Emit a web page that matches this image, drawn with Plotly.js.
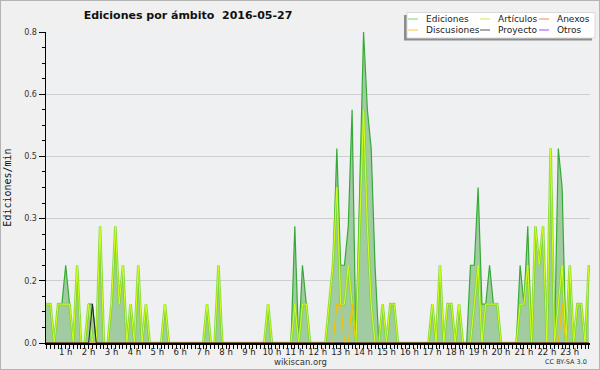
<!DOCTYPE html>
<html><head><meta charset="utf-8">
<script src="https://cdn.plot.ly/plotly-3.0.1.min.js"></script>
<style>
html,body{margin:0;padding:0;background:#f0f0f0;}
#wrap{width:600px;height:370px;box-sizing:border-box;border:1px solid #b4b4b4;overflow:hidden;}
#chart{width:598px;height:368px;}
</style></head><body><div id="wrap"><div id="chart"></div></div>
<script>
// ---- data: 10-minute bins over the day (index 0..143) ----
const seriesNames = ['Ediciones','Artículos','Anexos','Discusiones','Proyecto','Otros'];
const seriesColors = ['#7fcf7f','#ccee55','#f08a4b','#ffcc33','#555555','#9b4ff0'];
const hourLabels = ['1 h','2 h','3 h','4 h','5 h','6 h','7 h','8 h','9 h','10 h','11 h','12 h',
  '13 h','14 h','15 h','16 h','17 h','18 h','19 h','20 h','21 h','22 h','23 h'];
const yTickLabels = ['0.0','0.2','0.3','0.5','0.6','0.8'];
const yTickValues = [0,0.16,0.32,0.48,0.64,0.8];

const ediciones = [
 0.1,0.1,0.1,0,0.1,0.1,0.2,0.1,0,0.2,0,0,
 0.1,0.1,0,0.3,0,0,0.1,0.3,0.1,0.2,0,0.1,
 0,0.2,0,0.1,0,0,0,0,0.1,0,0,0,
 0,0,0,0,0,0,0,0.1,0,0,0.2,0,
 0,0,0,0,0,0,0,0,0,0,0,0.1,
 0,0,0,0,0,0,0.3,0,0.2,0.1,0,0,
 0,0,0,0.1,0.2,0.5,0.2,0.2,0.3,0.6,0,0.4,
 0.8,0.6,0.5,0.2,0,0.1,0,0.1,0.1,0,0,0,
 0,0,0,0,0,0,0.1,0,0.2,0,0.1,0.1,
 0,0.1,0,0,0.2,0.2,0.4,0.1,0.1,0.2,0.1,0.1,
 0,0,0,0,0,0.2,0.1,0.3,0,0.3,0.2,0.3,
 0,0.5,0,0.5,0.4,0,0.2,0,0.1,0.1,0,0.2];
const articulos = [
 0.1,0.1,0.1,0,0.1,0.1,0.1,0.1,0,0.2,0,0,
 0.1,0,0,0.3,0,0,0.1,0.3,0.1,0.2,0,0.1,
 0,0.2,0,0.1,0,0,0,0,0.1,0,0,0,
 0,0,0,0,0,0,0,0.1,0,0,0.2,0,
 0,0,0,0,0,0,0,0,0,0,0,0.1,
 0,0,0,0,0,0,0.1,0,0.1,0.1,0,0,
 0,0,0,0.1,0.2,0.4,0.1,0.1,0.2,0.1,0,0.3,
 0.6,0.3,0.1,0,0,0.1,0,0.1,0.1,0,0,0,
 0,0,0,0,0,0,0.1,0,0.2,0,0.1,0.1,
 0,0.1,0,0,0,0.1,0.2,0,0.1,0.1,0.1,0.1,
 0,0,0,0,0,0.1,0.1,0.2,0,0.3,0.2,0.3,
 0,0.5,0,0.1,0.2,0,0.2,0,0.1,0.1,0,0.2];
const anexos = [
 0,0,0,0,0,0,0,0,0,0,0,0, 0,0,0,0,0,0,0,0,0,0,0,0,
 0,0,0,0,0,0,0,0,0,0,0,0, 0,0,0,0,0,0,0,0,0,0,0,0,
 0,0,0,0,0,0,0,0,0,0,0,0, 0,0,0,0,0,0,0,0,0,0,0,0,
 0,0,0,0,0,0,0,0,0,0,0,0, 0,0,0,0,0,0,0,0,0,0,0,0,
 0,0,0,0,0,0,0,0,0,0,0,0, 0,0,0,0,0,0,0,0,0,0,0,0,
 0,0,0,0,0,0,0,0,0,0,0,0, 0,0,0,0,0,0,0,0,0,0,0,0];
const discusiones = [
 0,0,0,0,0,0,0,0,0,0,0,0, 0,0,0,0,0,0,0,0,0,0,0,0,
 0,0,0,0,0,0,0,0,0,0,0,0, 0,0,0,0,0,0,0,0,0,0,0,0,
 0,0,0,0,0,0,0,0,0,0,0,0, 0,0,0,0,0,0,0,0,0,0,0,0,
 0,0,0,0,0,0.1,0.1,0,0,0.1,0,0, 0,0,0,0,0,0,0,0,0,0,0,0,
 0,0,0,0,0,0,0,0,0,0,0,0, 0,0,0,0,0,0,0,0,0,0,0,0,
 0,0,0,0,0,0,0,0,0,0,0,0, 0,0,0,0,0.1,0,0,0,0,0,0,0];
const proyecto = [
 0,0,0,0,0,0,0,0,0,0,0,0, 0,0.1,0,0,0,0,0,0,0,0,0,0,
 0,0,0,0,0,0,0,0,0,0,0,0, 0,0,0,0,0,0,0,0,0,0,0,0,
 0,0,0,0,0,0,0,0,0,0,0,0, 0,0,0,0,0,0,0,0,0,0,0,0,
 0,0,0,0,0,0,0,0,0,0,0,0, 0,0,0,0,0,0,0,0,0,0,0,0,
 0,0,0,0,0,0,0,0,0,0,0,0, 0,0,0,0,0,0,0,0,0,0,0,0,
 0,0,0,0,0,0,0,0,0,0,0,0, 0,0,0,0,0,0,0,0,0,0,0,0];
const otros = [
 0,0,0,0,0,0,0,0,0,0,0,0, 0,0,0,0,0,0,0,0,0,0,0,0,
 0,0,0,0,0,0,0,0,0,0,0,0, 0,0,0,0,0,0,0,0,0,0,0,0,
 0,0,0,0,0,0,0,0,0,0,0,0, 0,0,0,0,0,0,0,0,0,0,0,0,
 0,0,0,0,0,0,0,0,0,0,0,0, 0,0,0,0,0,0,0,0,0,0,0,0,
 0,0,0,0,0,0,0,0,0,0,0,0, 0,0,0,0,0,0,0,0,0,0,0,0,
 0,0,0,0,0,0,0,0,0,0,0,0, 0,0,0,0,0,0,0,0,0,0,0,0];

// ---- build ----
const idx = ediciones.map((_, i) => i);
const hourTickVals = hourLabels.map((_, k) => (k + 1) * 6);

const traces = [
  {x: idx, y: ediciones, type:'scatter', mode:'lines', fill:'tozeroy',
   fillcolor:'#a1cca1', line:{color:'#36aa36', width:1.2}, name:seriesNames[0], hoverinfo:'skip'},
  // Artículos: soft green halo + bright lime core
  {x: idx, y: articulos, type:'scatter', mode:'lines',
   line:{color:'rgba(120,215,30,0.75)', width:2.6}, name:seriesNames[1], hoverinfo:'skip'},
  {x: idx, y: articulos, type:'scatter', mode:'lines',
   line:{color:'#d4ff1e', width:1}, name:seriesNames[1], hoverinfo:'skip'},
  {x: idx, y: anexos, type:'scatter', mode:'lines',
   line:{color:'#f08a4b', width:1}, name:seriesNames[2], hoverinfo:'skip'},
  {x: idx, y: otros, type:'scatter', mode:'lines',
   line:{color:'#9b4ff0', width:1}, name:seriesNames[5], hoverinfo:'skip'},
  {x: idx, y: discusiones, type:'scatter', mode:'lines',
   line:{color:'#f2c200', width:1.2}, name:seriesNames[3], hoverinfo:'skip'},
  {x: idx, y: proyecto, type:'scatter', mode:'lines',
   line:{color:'#222222', width:1}, name:seriesNames[4], hoverinfo:'skip'}
];

// plot area in pixels (inside the 1px border): x 45..589, y 31..342
const PL = 45, PR = 589, PT = 31, PB = 342;
const px = v => (v - PL) / (PR - PL);
const py = v => (PB - v) / (PB - PT);

const shapes = [];
const annotations = [];
// legend box (shadow + box)
shapes.push({type:'rect', xref:'paper', yref:'paper', x0:px(403), x1:px(591), y0:py(14), y1:py(39.5),
  fillcolor:'#8c8c8c', line:{width:0}, layer:'above'});
shapes.push({type:'rect', xref:'paper', yref:'paper', x0:px(406), x1:px(594), y0:py(11.5), y1:py(37),
  fillcolor:'#ffffff', line:{color:'#d8d8d8', width:1}, layer:'above'});
const legCols = [407, 479, 538];
const legRows = [18, 29];
[0,1,2,3,4,5].forEach((s, k) => {
  const cx = legCols[k % 3], cy = legRows[Math.floor(k / 3)];
  shapes.push({type:'line', xref:'paper', yref:'paper', x0:px(cx), x1:px(cx+10), y0:py(cy), y1:py(cy),
    line:{color:seriesColors[s], width:1}, layer:'above'});
  annotations.push({xref:'paper', yref:'paper', x:px(cx+16), y:py(cy), xanchor:'left', yanchor:'middle',
    text:seriesNames[s], showarrow:false, font:{family:'DejaVu Sans', size:9, color:'#222'}});
});
annotations.push({xref:'paper', yref:'paper', x:px(299), y:py(361), xanchor:'center', yanchor:'middle',
  text:'wikiscan.org', showarrow:false, font:{family:'DejaVu Sans', size:8.5, color:'#333'}});
annotations.push({xref:'paper', yref:'paper', x:px(588), y:py(361), xanchor:'right', yanchor:'middle',
  text:'CC BY-SA 3.0', showarrow:false, font:{family:'DejaVu Sans', size:6.5, color:'#333'}});

const layout = {
  width:598, height:368,
  margin:{l:PL, r:598-PR, t:PT, b:368-PB, pad:0},
  paper_bgcolor:'#f0f0f0', plot_bgcolor:'#eef0f2',
  showlegend:false,
  title:{text:'Ediciones por ámbito  2016-05-27', x:187/598, xanchor:'center', xref:'container',
    y:1-14/368, yref:'container', yanchor:'middle',
    font:{family:'DejaVu Sans', size:11, color:'#111', weight:'bold'}},
  xaxis:{range:[0.84, 143.3], showgrid:false, zeroline:false,
    showline:true, linecolor:'#000', linewidth:1.5,
    tickmode:'array', tickvals:hourTickVals, ticktext:hourLabels,
    ticks:'outside', ticklen:4, tickcolor:'#000', tickwidth:1, ticklabelstandoff:-4,
    minor:{dtick:1, tick0:0, ticks:'outside', ticklen:4, tickcolor:'#000', tickwidth:1, showgrid:false},
    tickfont:{family:'DejaVu Sans', size:8.5, color:'#222'}, fixedrange:true},
  yaxis:{range:[0, 0.8], showgrid:true, gridcolor:'#cfcfcf', gridwidth:1, zeroline:false,
    showline:true, linecolor:'#000', linewidth:1.5,
    tickmode:'array', tickvals:yTickValues, ticktext:yTickLabels,
    ticks:'outside', ticklen:6, tickcolor:'#000', tickwidth:1,
    minor:{dtick:0.04, tick0:0, ticks:'outside', ticklen:3, tickcolor:'#000', tickwidth:1, showgrid:false},
    tickfont:{family:'DejaVu Sans', size:8, color:'#333'},
    title:{text:'Ediciones/min', standoff:10, font:{family:'DejaVu Sans Mono', size:10, color:'#111'}},
    fixedrange:true},
  shapes:shapes, annotations:annotations
};
Plotly.newPlot('chart', traces, layout, {staticPlot:true, displayModeBar:false});
</script></body></html>
